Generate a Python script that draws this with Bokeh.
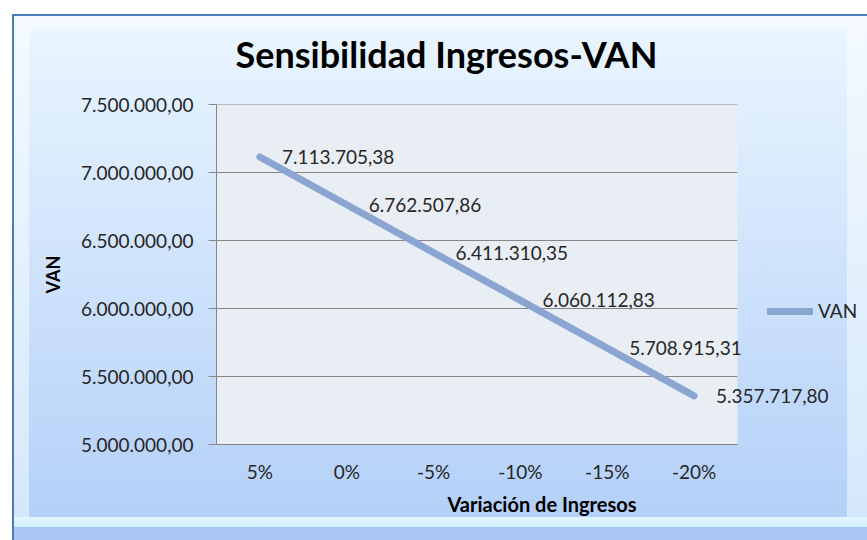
from bokeh.plotting import figure
from bokeh.models import (ColumnDataSource, Range1d, FixedTicker, BoxAnnotation,
                          LabelSet, Legend, LegendItem)
from bokeh.core.properties import value
from bokeh.embed import file_html
from bokeh.resources import INLINE

# ---- data ----
categories = ["5%", "0%", "-5%", "-10%", "-15%", "-20%"]
van_values = [7113705.38, 6762507.86, 6411310.35, 6060112.83, 5708915.31, 5357717.80]
value_labels = ["7.113.705,38", "6.762.507,86", "6.411.310,35",
                "6.060.112,83", "5.708.915,31", "5.357.717,80"]
y_ticks = [5000000, 5500000, 6000000, 6500000, 7000000, 7500000]
y_tick_labels = ["5.000.000,00", "5.500.000,00", "6.000.000,00",
                 "6.500.000,00", "7.000.000,00", "7.500.000,00"]

FONT = "Lato"
TXT = "#262626"
GRID = "#868686"

# layout (pixels)
W, H = 867, 540
LEFT, TOP, BOTTOM = 216, 104, 96
PLOT_W, PLOT_H = 521, 340          # visible grey plot area
FRAME_W = W - LEFT                 # frame extends right so labels are not clipped

idx = list(range(len(categories)))
x_lo = -0.5
x_hi = len(categories) - 0.5
x_end = x_lo + len(categories) * FRAME_W / PLOT_W

src = ColumnDataSource(dict(x=idx, y=van_values, lbl=value_labels))

p = figure(width=W, height=H, output_backend="svg", toolbar_location=None,
           x_range=Range1d(x_lo, x_end),
           y_range=Range1d(y_ticks[0], y_ticks[-1]),
           min_border_left=LEFT, min_border_right=0,
           min_border_top=TOP, min_border_bottom=BOTTOM,
           frame_width=FRAME_W, frame_height=PLOT_H)

bg_layers = [
    "linear-gradient(#4a7ebb,#4a7ebb) 12px 14px / 855px 2px no-repeat",
    "linear-gradient(#4a7ebb,#4a7ebb) 12px 14px / 2px 526px no-repeat",
    "linear-gradient(to bottom,#e9f5ff,#b4d0f8) 29px 31px / 818px 486px no-repeat",
    "linear-gradient(to bottom,#e2f7ff,#cdeeff) 14px 517px / 853px 10px no-repeat",
    "linear-gradient(#a9c5f1,#a9c5f1) 14px 527px / 853px 13px no-repeat",
    "linear-gradient(to bottom,#f4faff,#d3e7fb) 14px 16px / 853px 524px no-repeat",
    "#ffffff",
]
p.styles = {"background": ", ".join(bg_layers)}
p.border_fill_alpha = 0
p.outline_line_color = None
p.background_fill_alpha = 0

# grey plot area
p.add_layout(BoxAnnotation(left=x_lo, right=x_hi, fill_color="#e9edf4",
                           fill_alpha=1, line_color=None, level="image"))

# title
p.title.text = "Sensibilidad Ingresos-VAN"
p.title.align = "left"
p.title.offset = 19
p.title.text_font = FONT
p.title.text_font_style = "bold"
p.title.text_font_size = "36px"
p.title.text_color = "#000000"
p.title.text_line_height = 1.0
p.title.standoff = 58

# grid (drawn only across the plot area)
p.xgrid.visible = False
p.ygrid.visible = False
p.segment(x0=x_lo, x1=x_hi, y0=y_ticks, y1=y_ticks, line_color=GRID, line_width=1)

# y axis
p.yaxis.ticker = FixedTicker(ticks=y_ticks)
p.yaxis.major_label_overrides = dict(zip(y_ticks, y_tick_labels))
p.yaxis.axis_line_color = GRID
p.yaxis.major_tick_line_color = GRID
p.yaxis.major_tick_out = 8
p.yaxis.major_tick_in = 0
p.yaxis.minor_tick_line_color = None
p.yaxis.major_label_standoff = 15
p.yaxis.major_label_text_font = FONT
p.yaxis.major_label_text_font_size = "19px"
p.yaxis.major_label_text_color = TXT
p.yaxis.axis_label = "VAN"
p.yaxis.axis_label_text_font = FONT
p.yaxis.axis_label_text_font_style = "bold"
p.yaxis.axis_label_text_font_size = "18px"
p.yaxis.axis_label_text_color = "#000000"
p.yaxis.axis_label_standoff = 14

# x axis
p.xaxis.ticker = FixedTicker(ticks=idx)
p.xaxis.major_label_overrides = dict(zip(idx, categories))
p.xaxis.bounds = (x_lo, x_hi)
p.xaxis.axis_line_color = GRID
p.xaxis.major_tick_line_color = None
p.xaxis.minor_tick_line_color = None
p.xaxis.major_tick_out = 0
p.xaxis.major_tick_in = 0
p.xaxis.major_label_standoff = 15
p.xaxis.major_label_text_font = FONT
p.xaxis.major_label_text_font_size = "19px"
p.xaxis.major_label_text_color = TXT
p.xaxis.axis_label = "Variación de Ingresos"
p.xaxis.axis_label_text_font = FONT
p.xaxis.axis_label_text_font_style = "bold"
p.xaxis.axis_label_text_font_size = "20px"
p.xaxis.axis_label_text_color = "#000000"
p.xaxis.axis_label_standoff = 6

# line
line_r = p.line("x", "y", source=src, line_width=7, line_color="#8AA5D2",
                line_cap="round", line_join="round")

labels = LabelSet(x="x", y="y", text="lbl", source=src, x_offset=22, y_offset=0,
                  text_baseline="middle", text_align="left",
                  text_font=value(FONT), text_font_size=value("19px"),
                  text_color=TXT)
p.add_layout(labels)

legend = Legend(items=[LegendItem(label="VAN", renderers=[line_r])],
                location=(551, 122), padding=0, margin=0, spacing=0,
                glyph_width=46, glyph_height=20, label_height=20,
                label_standoff=5, border_line_color=None,
                background_fill_alpha=0,
                label_text_font=FONT, label_text_font_size="19px",
                label_text_color=TXT)
p.add_layout(legend)

open("out.html", "w").write(file_html(p, INLINE))
